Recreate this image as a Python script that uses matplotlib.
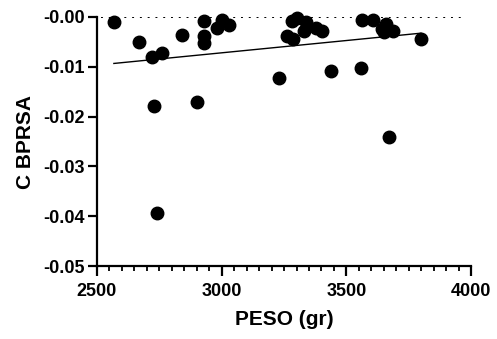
import matplotlib
matplotlib.use("Agg")
import matplotlib.pyplot as plt
import numpy as np
from matplotlib.ticker import MultipleLocator, FormatStrFormatter

plt.rcParams['font.family'] = ['Liberation Sans', 'DejaVu Sans']
plt.rcParams['font.weight'] = 'bold'
plt.rcParams['axes.unicode_minus'] = False

peso = [2568, 2668, 2721, 2761, 2841, 2929, 2929, 2929, 2981, 3001, 3029,
        2729, 2901, 2741, 3230, 3262, 3286, 3282, 3302, 3338, 3330, 3378,
        3402, 3438, 3559, 3563, 3607, 3659, 3643, 3651, 3687, 3671, 3799]
c_bprsa = [-0.0010, -0.0050, -0.0080, -0.0072, -0.0036, -0.0008, -0.0038, -0.0052,
           -0.0022, -0.0006, -0.0016, -0.0179, -0.0171, -0.0394, -0.0122, -0.0038,
           -0.0044, -0.0008, -0.0002, -0.0010, -0.0028, -0.0022, -0.0028, -0.0108,
           -0.0102, -0.0006, -0.0006, -0.0014, -0.0024, -0.0030, -0.0028, -0.0241,
           -0.0044]

x = np.array(peso)
y = np.array(c_bprsa)

fig = plt.figure(figsize=(4.97, 3.39), dpi=100)
ax = fig.add_axes([0.195, 0.215, 0.753, 0.735])

ax.axhline(0, xmin=0.01, xmax=0.98, color='black', linestyle=(0, (1, 3)),
           linewidth=1.4, zorder=1)
ax.plot(x, y, 'o', color='black', markersize=9, zorder=3, clip_on=False)

# linear fit over the data range
slope, inter = np.polyfit(x, y, 1)
xf = np.array([x.min(), x.max()])
ax.plot(xf, slope * xf + inter, color='black', linewidth=1, zorder=2)

ax.set_xlim(2500, 4000)
ax.set_ylim(-0.05, 0.0)
ax.xaxis.set_major_locator(MultipleLocator(500))
ax.xaxis.set_minor_locator(MultipleLocator(50))
ax.yaxis.set_major_locator(MultipleLocator(0.01))
ax.yaxis.set_major_formatter(FormatStrFormatter('%.2f'))

for s in ['top', 'right']:
    ax.spines[s].set_visible(False)
for s in ['left', 'bottom']:
    ax.spines[s].set_linewidth(1.6)
ax.tick_params(axis='x', which='major', length=7.5, width=1.6, labelsize=13, pad=5)
ax.tick_params(axis='y', which='major', length=6.5, width=1.6, labelsize=13, pad=2)
ax.tick_params(axis='x', which='minor', length=3.8, width=1.3)
for lab in ax.get_xticklabels() + ax.get_yticklabels():
    lab.set_fontweight('bold')

ax.set_xlabel('PESO (gr)', fontsize=15, fontweight='bold', labelpad=7)
ax.set_ylabel('C BPRSA', fontsize=15, fontweight='bold', labelpad=6)

fig.savefig('out.png', dpi=100)
